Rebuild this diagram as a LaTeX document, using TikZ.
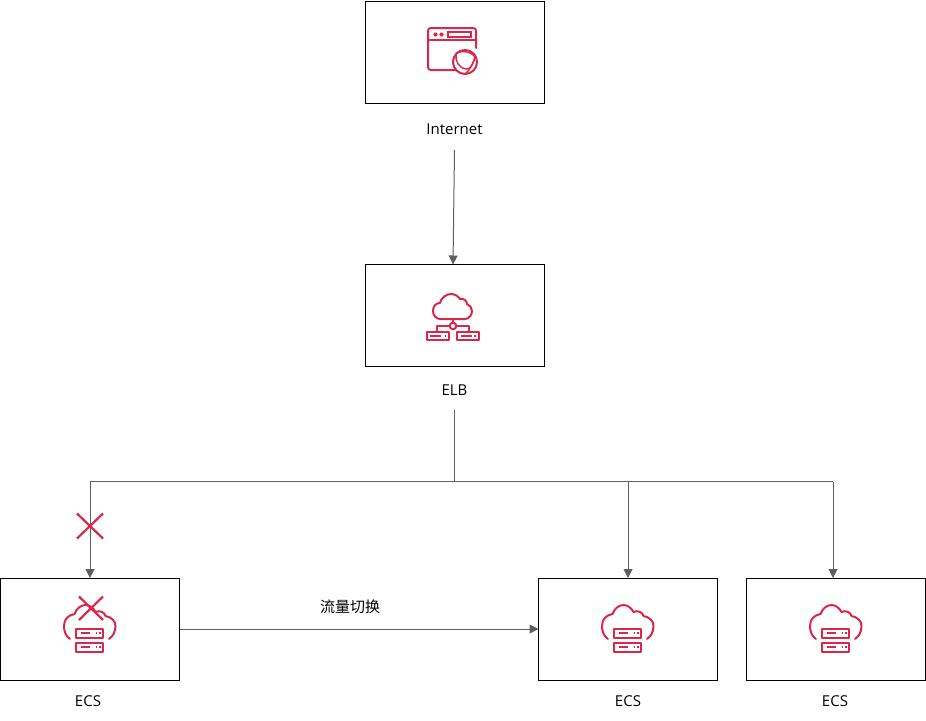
\documentclass[tikz,border=0pt]{standalone}
\usepackage{fontspec}
\setmainfont{Open Sans}
\newfontfamily\cjkfont{Noto Sans CJK SC}
\usetikzlibrary{arrows.meta,calc}
\definecolor{iconred}{HTML}{D9274C}
\definecolor{linegray}{HTML}{5F5F5F}
\tikzset{
  box/.style={draw=black,line width=1pt,minimum width=179pt,minimum height=102pt,inner sep=0pt,outer sep=0pt},
  lbl/.style={font=\fontsize{15pt}{18pt}\selectfont,text=black,inner sep=0pt,outer sep=0pt,align=center},
  conn/.style={draw=linegray,line width=1pt},
  arrowconn/.style={conn,-{Triangle[length=9pt,width=9pt,fill=linegray]}},
  icon/.style={draw=iconred,line width=2pt,line cap=round,line join=round},
  redcross/.style={draw=iconred,line width=2.2pt},
  pics/cloudserver/.style={code={
    \draw[icon] (-19.5,11) .. controls (-24,8) and (-25.5,3) .. (-25.5,-2)
      .. controls (-25.5,-9) and (-21,-13) .. (-15,-14)
      .. controls (-13,-20) and (-8,-23) .. (-4,-23)
      .. controls (0,-23) and (4,-20) .. (6,-16)
      .. controls (10,-18) and (15,-16) .. (16,-12)
      .. controls (22,-11) and (26,-7) .. (26,-2)
      .. controls (26,3) and (24,8) .. (19.5,11);
    \draw[icon] (-13.5,0.5) rectangle (13.5,9.5);
    \draw[icon] (-13.5,14.5) rectangle (13.5,23.5);
    \draw[draw=iconred,line width=1.3pt] (-9,5) -- (0,5) (6,5) -- (7.5,5) (9.5,5) -- (11,5);
    \draw[draw=iconred,line width=1.3pt] (-9,19) -- (0,19) (6,19) -- (7.5,19) (9.5,19) -- (11,19);
  }},
  pics/cloudtree/.style={code={
    \draw[icon] (-13,15) .. controls (-17,15) and (-20,11) .. (-20,7)
      .. controls (-20,2) and (-17,-1) .. (-13,-1)
      .. controls (-12,-6) and (-7,-10) .. (-2,-10)
      .. controls (2,-10) and (5,-8) .. (7,-5)
      .. controls (11,-6) and (14,-3) .. (14,0)
      .. controls (17,1) and (19,4) .. (19,7)
      .. controls (19,11) and (16,15) .. (12,15) -- cycle;
    \draw[icon] (0,15) -- (0,18.5);
    \draw[icon] (0,22) circle (3.3);
    \draw[icon] (-3.3,22) -- (-16,22) -- (-16,27) (3.3,22) -- (16,22) -- (16,27);
    \draw[icon] (-26.5,28) rectangle (-4,36);
    \draw[icon] (4,28) rectangle (25.5,36);
    \draw[draw=iconred,line width=1.3pt] (-23,32) -- (-12,32) (-8.5,32) -- (-7,32) (8,32) -- (19,32) (21,32) -- (22.5,32);
  }},
  pics/webicon/.style={code={
    \draw[icon] (3,21) -- (-22,21) .. controls (-24,21) and (-25,20) .. (-25,18)
      -- (-25,-18) .. controls (-25,-20) and (-24,-21) .. (-22,-21)
      -- (20,-21) .. controls (22,-21) and (23,-20) .. (23,-18) -- (23,-1);
    \draw[icon] (-25,-9) -- (23,-9);
    \fill[iconred] (-17.5,-14.5) circle (2.1) (-11.5,-14.5) circle (2.1);
    \draw[draw=iconred,line width=1.6pt] (-5,-17) rectangle (18,-12);
    \draw[icon] (12,13) circle (12);
    \draw[draw=iconred,line width=1.4pt] (3,5) .. controls (7,1) and (18,2) .. (22,8)
      .. controls (20,14) and (18,20) .. (12,25);
    \draw[draw=iconred,line width=1.4pt] (3,5) .. controls (2,12) and (6,20) .. (14,20)
      .. controls (17,20) and (20,16) .. (22,8);
  }}
}
\begin{document}
\begin{tikzpicture}[x=1pt,y=-1pt]
\useasboundingbox (0,0) rectangle (926,720);
% boxes
\node[box] (inet) at (454.5,52) {};
\node[box] (elb) at (454.5,315.5) {};
\node[box] (ecsa) at (90,629) {};
\node[box] (ecsb) at (628,629) {};
\node[box] (ecsc) at (836,629) {};
% labels
\node[lbl,minimum height=41pt] (tinet) at (454.5,129.5) {Internet};
\node[lbl,minimum height=39pt] (telb) at (454.5,390.5) {ELB};
\node[lbl] (tecsa) at (88,701.5) {ECS};
\node[lbl] (tecsb) at (628,701.5) {ECS};
\node[lbl] (tecsc) at (835,701.5) {ECS};
\node[lbl,font=\cjkfont\fontsize{15pt}{18pt}\selectfont] (tswitch) at (350,607) {流量切换};
% connectors
\coordinate (bus) at (454.5,481.5);
\coordinate (busl) at (90,481.5);
\coordinate (busr) at (833,481.5);
\coordinate (topc) at (833,578);
\coordinate (elbtop) at (453,264.5);
\draw[arrowconn] (tinet.south) -- (elbtop);
\draw[conn] (telb.south) -- (bus);
\draw[conn] (busl) -- (busr);
\draw[arrowconn] (busl) -- (ecsa.north);
\draw[arrowconn] (bus -| ecsb.north) -- (ecsb.north);
\draw[arrowconn] (busr) -- (topc);
\draw[arrowconn] (ecsa.east) -- (ecsb.west);
% icons
\pic at (453,49) {webicon};
\pic at (453,304) {cloudtree};
\pic at (89.5,628) {cloudserver};
\pic at (627.5,628) {cloudserver};
\pic at (835.5,628) {cloudserver};
% crosses
\draw[redcross] (77,513.5) -- (103,538.5) (103,513.5) -- (77,538.5);
\draw[redcross] (79,596.5) -- (103,620) (103,596.5) -- (79,620);
\end{tikzpicture}
\end{document}
